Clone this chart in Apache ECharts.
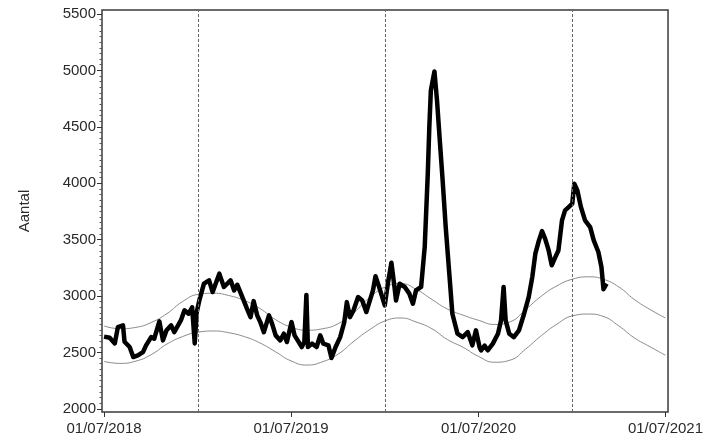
<!DOCTYPE html>
<html>
<head>
<meta charset="utf-8">
<script src="https://cdn.jsdelivr.net/npm/echarts@6/dist/echarts.min.js"></script>
<style>
  html, body { margin: 0; padding: 0; background: #fff; }
  #chart { width: 706px; height: 441px; }
</style>
</head>
<body>
<div id="chart"></div>
<script>
// daily counts (key turning points)
const dates = [
  '2018-07-01', '2018-07-12', '2018-07-22', '2018-07-28', '2018-08-07', '2018-08-10', '2018-08-20', '2018-08-27',
  '2018-09-05', '2018-09-15', '2018-09-21', '2018-10-01', '2018-10-07', '2018-10-17', '2018-10-24', '2018-10-31',
  '2018-11-09', '2018-11-15', '2018-11-28', '2018-12-05', '2018-12-13', '2018-12-20', '2018-12-25', '2018-12-29',
  '2019-01-03', '2019-01-12', '2019-01-22', '2019-01-29', '2019-02-11', '2019-02-20', '2019-03-05', '2019-03-12',
  '2019-03-18', '2019-03-28', '2019-04-06', '2019-04-13', '2019-04-19', '2019-04-26', '2019-05-02', '2019-05-09',
  '2019-05-19', '2019-05-25', '2019-06-01', '2019-06-10', '2019-06-17', '2019-06-23', '2019-07-02', '2019-07-08',
  '2019-07-14', '2019-07-22', '2019-07-27', '2019-07-31', '2019-08-03', '2019-08-11', '2019-08-20', '2019-08-27',
  '2019-09-02', '2019-09-12', '2019-09-18', '2019-09-26', '2019-10-05', '2019-10-13', '2019-10-18', '2019-10-24',
  '2019-10-31', '2019-11-09', '2019-11-17', '2019-11-25', '2019-12-02', '2019-12-08', '2019-12-13', '2019-12-19',
  '2019-12-24', '2019-12-31', '2020-01-06', '2020-01-13', '2020-01-19', '2020-01-22', '2020-01-29', '2020-02-08',
  '2020-02-17', '2020-02-24', '2020-03-01', '2020-03-11', '2020-03-18', '2020-03-24', '2020-03-27', '2020-03-30',
  '2020-04-06', '2020-04-11', '2020-04-16', '2020-04-22', '2020-04-28', '2020-05-05', '2020-05-11', '2020-05-21',
  '2020-05-31', '2020-06-10', '2020-06-19', '2020-06-26', '2020-07-03', '2020-07-06', '2020-07-13', '2020-07-19',
  '2020-07-29', '2020-08-08', '2020-08-14', '2020-08-19', '2020-08-23', '2020-08-30', '2020-09-08', '2020-09-18',
  '2020-09-28', '2020-10-07', '2020-10-14', '2020-10-20', '2020-10-27', '2020-11-02', '2020-11-08', '2020-11-15',
  '2020-11-21', '2020-11-28', '2020-12-04', '2020-12-11', '2020-12-17', '2020-12-24', '2020-12-31', '2021-01-04',
  '2021-01-10', '2021-01-17', '2021-01-25', '2021-02-04', '2021-02-11', '2021-02-20', '2021-02-26', '2021-03-02',
  '2021-03-08'
];
const counts = [
  2640, 2630, 2580, 2725, 2740, 2595, 2548, 2459,
  2474, 2503, 2563, 2636, 2622, 2775, 2607, 2696,
  2740, 2680, 2784, 2873, 2843, 2900, 2580, 2858,
  2961, 3109, 3139, 3035, 3198, 3080, 3139, 3050,
  3100, 2991, 2888, 2813, 2955, 2828, 2769, 2680,
  2828, 2755, 2651, 2607, 2666, 2592, 2769, 2651,
  2607, 2548, 2592, 3010, 2548, 2578, 2548, 2651,
  2578, 2563, 2450, 2548, 2636, 2769, 2946, 2813,
  2873, 2991, 2961, 2858, 2961, 3050, 3175, 3094,
  3021, 2917, 3109, 3295, 3080, 2961, 3109, 3080,
  3021, 2932, 3050, 3080, 3434, 4084, 4497, 4822,
  4990, 4734, 4408, 4025, 3611, 3198, 2843, 2666,
  2636, 2680, 2563, 2696, 2548, 2518, 2560, 2518,
  2578, 2666, 2784, 3080, 2784, 2666, 2636, 2696,
  2843, 2991, 3168, 3375, 3493, 3575, 3508, 3404,
  3272, 3345, 3404, 3670, 3759, 3788, 3818, 3995,
  3936, 3788, 3670, 3611, 3493, 3390, 3257, 3060,
  3110
];

// expected band (monthly readings)
const bandDates = [
  '2018-07-01', '2018-08-01', '2018-09-01', '2018-10-01', '2018-11-01', '2018-12-01',
  '2019-01-01', '2019-02-01', '2019-03-01', '2019-04-01', '2019-05-01', '2019-06-01',
  '2019-07-01', '2019-08-01', '2019-09-01', '2019-10-01', '2019-11-01', '2019-12-01',
  '2020-01-01', '2020-02-01', '2020-03-01', '2020-04-01', '2020-05-01', '2020-06-01',
  '2020-07-01', '2020-08-01', '2020-09-01', '2020-10-01', '2020-11-01', '2020-12-01',
  '2021-01-01', '2021-02-01', '2021-03-01', '2021-04-01', '2021-05-01', '2021-06-01',
  '2021-07-01'
];
const upper = [
  2735, 2710, 2722, 2765, 2845, 2950,
  3015, 3025, 3005, 2960, 2890, 2790,
  2725, 2697, 2710, 2755, 2855, 2985,
  3080, 3110, 3060, 2970, 2885, 2830,
  2785, 2748, 2772, 2880, 3000, 3090,
  3150, 3170, 3150, 3080, 2970, 2880,
  2805
];
const lower = [
  2420, 2403, 2423, 2480, 2575, 2640,
  2680, 2690, 2675, 2640, 2585, 2505,
  2425, 2388, 2418, 2485, 2600, 2700,
  2780, 2805, 2770, 2710, 2615, 2545,
  2465, 2413, 2432, 2530, 2650, 2750,
  2825, 2840, 2820, 2735, 2630, 2550,
  2475
];

const xTicks = ['2018-07-01', '2019-07-01', '2020-07-01', '2021-07-01'];
const yearMarks = ['2019-01-01', '2020-01-01', '2021-01-01'];
const yTicks = [2000, 2500, 3000, 3500, 4000, 4500, 5000, 5500];
const yMinor = [];
for (let v = 2000; v <= 5500; v += 50) {
  if (v % 500 !== 0) yMinor.push(v);
}

function t(s) { return Date.parse(s + 'T00:00:00Z'); }
function pad(n) { return n < 10 ? '0' + n : '' + n; }

const chart = echarts.init(document.getElementById('chart'));

const textStyle = { fontFamily: 'Liberation Sans', fontSize: 15, color: '#2a2a2a' };

const option = {
  backgroundColor: '#fff',
  animation: false,
  grid: {
    left: 102, top: 10, width: 570, height: 402,
    show: true, borderColor: '#3a3a3a', borderWidth: 1.5, backgroundColor: 'transparent'
  },
  xAxis: {
    type: 'value',
    min: t('2018-06-27'),
    max: t('2021-07-06'),
    splitLine: { show: false },
    axisLine: { show: false },
    axisTick: { show: true, length: 5, customValues: xTicks.map(t), lineStyle: { color: '#333' } },
    axisLabel: Object.assign({
      margin: 9,
      customValues: xTicks.map(t),
      formatter: function (v) {
        const d = new Date(v);
        return pad(d.getUTCDate()) + '/' + pad(d.getUTCMonth() + 1) + '/' + d.getUTCFullYear();
      }
    }, textStyle)
  },
  yAxis: [{
    type: 'value',
    min: 1972,
    max: 5535,
    name: 'Aantal',
    nameLocation: 'middle',
    nameGap: 70,
    nameTextStyle: textStyle,
    splitLine: { show: false },
    axisLine: { show: false },
    axisTick: { show: true, length: 5, customValues: yTicks, lineStyle: { color: '#333' } },
    axisLabel: Object.assign({
      margin: 6,
      customValues: yTicks,
      formatter: function (v) { return String(v); }
    }, textStyle)
  }, {
    type: 'value',
    min: 1972,
    max: 5535,
    position: 'left',
    offset: 0,
    splitLine: { show: false },
    axisLine: { show: false },
    axisTick: { show: true, length: 2.5, customValues: yMinor, lineStyle: { color: '#555' } },
    axisLabel: { show: false, customValues: yMinor }
  }],
  series: [
    {
      name: 'upper',
      type: 'line',
      smooth: true,
      showSymbol: false,
      lineStyle: { color: '#8a8a8a', width: 1 },
      data: bandDates.map((d, i) => [t(d), upper[i]]),
      markLine: {
        silent: true,
        symbol: 'none',
        label: { show: false },
        lineStyle: { color: '#666', width: 1, type: [3, 2] },
        data: yearMarks.map(d => ({ xAxis: t(d) }))
      }
    },
    {
      name: 'lower',
      type: 'line',
      smooth: true,
      showSymbol: false,
      lineStyle: { color: '#8a8a8a', width: 1 },
      data: bandDates.map((d, i) => [t(d), lower[i]])
    },
    {
      name: 'Aantal',
      type: 'line',
      showSymbol: false,
      lineStyle: { color: '#000', width: 4.5, join: 'round' },
      data: dates.map((d, i) => [t(d), counts[i]])
    }
  ]
};

chart.setOption(option);
</script>
</body>
</html>
